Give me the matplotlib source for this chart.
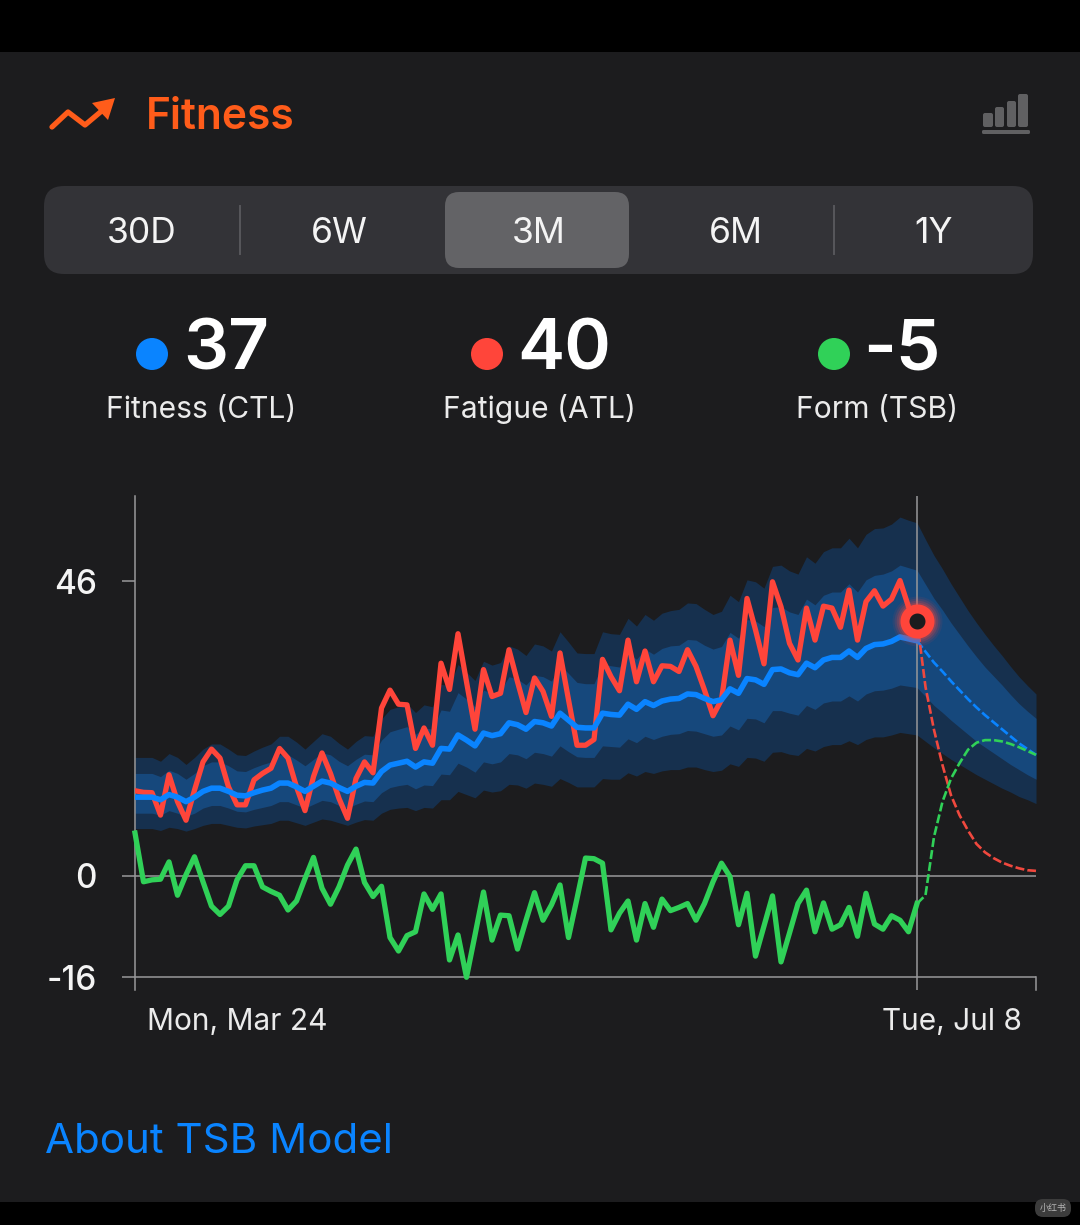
import matplotlib
matplotlib.use('Agg')
import matplotlib.pyplot as plt
from matplotlib.patches import FancyBboxPatch, Circle, Rectangle, Polygon

# values, one point per step, 93 past + 14 forecast
ctl = [12.3,12.3,12.3,11.9,12.7,12.3,11.6,12.3,13.2,13.7,13.7,13.2,12.6,12.5,13.0,13.4,13.7,14.5,14.5,13.9,13.2,14.0,14.8,14.5,13.8,13.2,14.0,14.6,14.5,16.3,17.3,17.6,17.9,17.0,17.8,17.6,19.9,19.8,22.0,21.2,20.3,22.3,21.9,22.2,23.9,23.6,22.9,24.1,23.9,23.4,25.4,24.3,23.2,23.1,23.1,25.4,25.2,25.1,26.8,26.0,27.2,26.6,27.3,27.6,27.7,28.4,28.3,27.7,27.2,27.5,29.2,28.5,30.8,30.6,29.9,32.2,32.3,31.7,31.4,33.2,32.5,33.7,34.1,34.1,35.1,34.1,35.5,36.1,36.2,36.6,37.3,37.0,36.7]
atl = [13.3,13.05,13.0,9.5,15.8,11.6,8.7,13.4,17.8,19.8,18.4,13.9,11.1,11.1,15.0,16.0,16.8,19.9,18.4,13.9,10.2,15.5,19.2,16.0,12.1,9.0,15.2,17.8,16.1,26.2,29.0,26.8,26.7,19.9,23.1,20.4,33.2,29.1,37.8,30.3,22.9,32.2,28.0,28.5,35.3,30.3,25.5,30.9,28.8,24.9,34.8,27.5,20.4,20.4,21.3,33.8,31.1,28.9,36.8,30.3,35.1,30.3,32.8,32.7,31.9,35.3,32.7,29.0,25.0,27.5,36.8,31.3,43.3,38.4,33.1,45.9,42.0,36.3,33.7,41.8,36.8,42.1,41.8,38.8,44.6,36.8,42.8,44.5,42.1,43.2,46.1,42.0,39.8]
tsb = [6.7,-0.9,-0.6,-0.5,2.2,-3.0,0.2,3.0,-0.9,-4.7,-6.0,-4.7,-0.6,1.6,1.6,-1.7,-2.4,-3.0,-5.3,-3.9,-0.4,2.9,-1.9,-4.4,-1.7,1.7,4.2,-1.0,-3.2,-1.6,-9.6,-11.7,-9.3,-8.7,-2.8,-5.2,-2.8,-13.1,-9.2,-15.8,-9.2,-2.5,-10.0,-6.1,-6.2,-11.4,-6.9,-2.6,-6.9,-4.5,-1.4,-9.6,-3.5,2.8,2.7,2.0,-8.4,-5.8,-3.9,-10.0,-4.3,-8.0,-3.6,-5.4,-4.9,-4.3,-6.9,-4.3,-0.9,2.0,-0.1,-7.6,-2.7,-12.5,-7.8,-3.1,-13.4,-8.9,-4.3,-2.2,-8.7,-4.2,-8.3,-7.6,-4.9,-9.4,-2.7,-7.5,-8.3,-6.2,-6.9,-8.7,-4.3]

ctl_fc = [36.7,35.0,33.3,31.9,30.4,29.0,27.6,26.3,25.1,24.0,22.9,21.8,20.7,19.8,18.9]
atl_fc = [39.8,29.5,22.8,17.3,12.6,9.5,7.1,5.0,3.7,2.8,2.1,1.6,1.2,0.9,0.8]
tsb_fc = [-4.3,-3.0,6.1,11.6,15.2,17.6,19.7,20.8,21.2,21.2,21.0,20.6,20.1,19.5,18.9]

band_top_outer = [18.5,18.5,18.5,17.9,19.1,18.5,17.4,18.5,19.8,20.6,20.6,19.8,18.9,18.8,19.5,20.1,20.6,21.8,21.8,20.9,19.8,21.0,22.2,21.8,20.7,19.8,21.0,21.9,21.8,24.5,26.0,26.4,26.9,25.5,26.7,26.4,29.9,29.7,33.0,31.8,30.5,33.5,32.9,33.3,35.9,35.4,34.4,36.2,35.9,35.1,38.1,36.5,34.8,34.7,34.7,38.1,37.8,37.7,40.2,39.0,40.8,39.9,41.0,41.4,41.6,42.6,42.5,41.6,40.8,41.3,43.8,42.8,46.2,45.9,44.9,48.3,48.5,47.6,47.1,49.8,48.8,50.6,51.2,51.2,52.7,51.2,53.3,54.2,54.3,54.9,56.0,55.5,55.1,52.5,50.0,47.9,45.6,43.5,41.4,39.5,37.7,36.0,34.4,32.7,31.1,29.7,28.4]
band_top_inner = [16.0,16.0,16.0,15.5,16.5,16.0,15.1,16.0,17.2,17.8,17.8,17.2,16.4,16.3,16.9,17.4,17.8,18.9,18.9,18.1,17.2,18.2,19.2,18.9,17.9,17.2,18.2,19.0,18.9,21.2,22.5,22.9,23.3,22.1,23.1,22.9,25.9,25.7,28.6,27.6,26.4,29.0,28.5,28.9,31.1,30.7,29.8,31.3,31.1,30.4,33.0,31.6,30.2,30.0,30.0,33.0,32.8,32.6,34.8,33.8,35.4,34.6,35.5,35.9,36.0,36.9,36.8,36.0,35.4,35.8,38.0,37.1,40.0,39.8,38.9,41.9,42.0,41.2,40.8,43.2,42.3,43.8,44.3,44.3,45.6,44.3,46.2,46.9,47.1,47.6,48.5,48.1,47.7,45.5,43.3,41.5,39.5,37.7,35.9,34.2,32.6,31.2,29.8,28.3,26.9,25.7,24.6]
band_low_inner = [9.8,9.8,9.8,9.5,10.2,9.8,9.3,9.8,10.6,11.0,11.0,10.6,10.1,10.0,10.4,10.7,11.0,11.6,11.6,11.1,10.6,11.2,11.8,11.6,11.0,10.6,11.2,11.7,11.6,13.0,13.8,14.1,14.3,13.6,14.2,14.1,15.9,15.8,17.6,17.0,16.2,17.8,17.5,17.8,19.1,18.9,18.3,19.3,19.1,18.7,20.3,19.4,18.6,18.5,18.5,20.3,20.2,20.1,21.4,20.8,21.8,21.3,21.8,22.1,22.2,22.7,22.6,22.2,21.8,22.0,23.4,22.8,24.6,24.5,23.9,25.8,25.8,25.4,25.1,26.6,26.0,27.0,27.3,27.3,28.1,27.3,28.4,28.9,29.0,29.3,29.8,29.6,29.4,28.0,26.6,25.5,24.3,23.2,22.1,21.0,20.1,19.2,18.3,17.4,16.6,15.8,15.1]
band_low_outer = [7.4,7.4,7.4,7.1,7.6,7.4,7.0,7.4,7.9,8.2,8.2,7.9,7.6,7.5,7.8,8.0,8.2,8.7,8.7,8.3,7.9,8.4,8.9,8.7,8.3,7.9,8.4,8.8,8.7,9.8,10.4,10.6,10.7,10.2,10.7,10.6,11.9,11.9,13.2,12.7,12.2,13.4,13.1,13.3,14.3,14.2,13.7,14.5,14.3,14.0,15.2,14.6,13.9,13.9,13.9,15.2,15.1,15.1,16.1,15.6,16.3,16.0,16.4,16.6,16.6,17.0,17.0,16.6,16.3,16.5,17.5,17.1,18.5,18.4,17.9,19.3,19.4,19.0,18.8,19.9,19.5,20.2,20.5,20.5,21.1,20.5,21.3,21.7,21.7,22.0,22.4,22.2,22.0,21.0,20.0,19.1,18.2,17.4,16.6,15.8,15.1,14.4,13.7,13.1,12.4,11.9,11.3]

y_ticks = [46, 0, -15.8]
y_tick_labels = ['46', '0', '-16']
ranges = ['30D', '6W', '3M', '6M', '1Y']
stat_values = ['37', '40', '-5']
stat_names = ['Fitness (CTL)', 'Fatigue (ATL)', 'Form (TSB)']

BG = '#1c1c1e'
BLUE = '#0a84ff'
RED = '#ff453a'
GREEN = '#30d158'
ORANGE = '#ff5c1a'
GRID = '#98989a'

plt.rcParams['font.family'] = ['Inter', 'DejaVu Sans']

fig = plt.figure(figsize=(10.8, 12.25), dpi=100, facecolor='black')

# pixel canvas for the app chrome
ui = fig.add_axes([0, 0, 1, 1])
ui.set_xlim(0, 1080)
ui.set_ylim(1225, 0)
ui.axis('off')

ui.add_patch(Rectangle((0, 52), 1080, 1150, color=BG, lw=0))

# header
ui.plot([52, 68, 85, 104], [127, 112, 125, 109], color=ORANGE, lw=3.8, solid_joinstyle='round', solid_capstyle='round')
ui.add_patch(Polygon([(92, 103), (115, 98), (108, 120)], color=ORANGE, lw=0))
ui.text(146, 113, 'Fitness', color=ORANGE, fontsize=30.5, fontweight='semibold', va='center_baseline')

for x0, x1, top in [(983, 993, 113), (995, 1004, 107), (1007, 1016, 101), (1018, 1028, 94)]:
    ui.add_patch(FancyBboxPatch((x0, top), x1 - x0, 127 - top, boxstyle='round,pad=0,rounding_size=2', color='#606062', lw=0))
ui.add_patch(FancyBboxPatch((982, 130), 48, 4, boxstyle='round,pad=0,rounding_size=1.5', color='#606062', lw=0))

# range picker
ui.add_patch(FancyBboxPatch((44, 186), 989, 88, boxstyle='round,pad=0,rounding_size=20', color='#333337', lw=0))
ui.add_patch(FancyBboxPatch((445, 192), 184, 76, boxstyle='round,pad=0,rounding_size=14', color='#636366', lw=0))
for x in [240, 834]:
    ui.plot([x, x], [206, 254], color='#57575b', lw=1.4)
for x, lab in zip([142, 339, 539, 736, 934], ranges):
    ui.text(x, 230, lab, color='#f4f4f4', fontsize=25.5, ha='center', va='center_baseline')

# current values
for dot_x, col, num_x, val, name_x, name in zip([152, 487, 834], [BLUE, RED, GREEN], [183, 517, 863], stat_values, [201, 539, 877], stat_names):
    ui.add_patch(Circle((dot_x, 354), 16, color=col, lw=0))
    ui.text(num_x, 344, val, color='white', fontsize=51, fontweight='semibold', va='center_baseline')
    ui.text(name_x, 406.5, name, color='#ebebeb', fontsize=21.6, ha='center', va='center_baseline')

ui.text(45, 1138, 'About TSB Model', color=BLUE, fontsize=30.3, va='center_baseline')

# watermark pill
ui.add_patch(FancyBboxPatch((1035, 1199), 36, 18, boxstyle='round,pad=0,rounding_size=8', color='#3c3c3c', lw=0))
ui.text(1053, 1208, '小红书', color='#b5b5b5', fontsize=6.5, ha='center', va='center', family=['Noto Sans CJK SC', 'DejaVu Sans'])

# the chart itself
px_per_unit = 6.41
ax_left, ax_right, ax_top, ax_bottom = 135, 1036, 496, 990
ax = fig.add_axes([ax_left / 1080, 1 - ax_bottom / 1225, (ax_right - ax_left) / 1080, (ax_bottom - ax_top) / 1225])
ax.patch.set_alpha(0)
ax.set_xlim(0, 106)
ax.set_ylim((876 - ax_bottom) / px_per_unit, (876 - ax_top) / px_per_unit)

days = list(range(len(ctl)))
days_fc = list(range(len(ctl) - 1, len(ctl) - 1 + len(ctl_fc)))
days_all = list(range(len(band_top_outer)))

ax.fill_between(days_all, band_low_outer, band_top_outer, color='#16304e', lw=0, zorder=1)
ax.fill_between(days_all, band_low_inner, band_top_inner, color='#16487c', lw=0, zorder=1.1)

for sp in ['top', 'right', 'bottom']:
    ax.spines[sp].set_visible(False)
ax.spines['left'].set_color(GRID)
ax.spines['left'].set_linewidth(1.1)
ax.set_xticks([])
ax.set_yticks(y_ticks)
ax.set_yticklabels(y_tick_labels, color='#f4f4f4', fontsize=24, fontweight='medium')
ax.tick_params(axis='y', length=9.5, width=1.1, color=GRID, pad=18)

ax.axhline(0, color=GRID, lw=1.1, zorder=2)
ax.axhline(y_ticks[2], color=GRID, lw=1.1, zorder=2)
ax.axvline(days[-1], color=GRID, lw=1.1, zorder=2)
ax.plot([106, 106], [(876 - ax_bottom) / px_per_unit, y_ticks[2]], color=GRID, lw=1.1, clip_on=False, zorder=2)

dash = (0, (3.4, 1.2))
ax.plot(days_fc, ctl_fc, color=BLUE, lw=1.9, ls=dash, zorder=3, clip_on=False)
ax.plot(days_fc, atl_fc, color='#f0483e', lw=1.9, ls=dash, zorder=3, clip_on=False)
ax.plot(days_fc, tsb_fc, color=GREEN, lw=1.9, ls=dash, zorder=3, clip_on=False)

ax.plot(days, tsb, color=GREEN, lw=3.8, solid_joinstyle='round', zorder=4, clip_on=False)
ax.plot(days, atl, color=RED, lw=3.8, solid_joinstyle='round', zorder=4)
ax.plot(days, ctl, color=BLUE, lw=4, solid_joinstyle='round', zorder=5)

# today marker with its glow
for ms, alpha in [(36, 0.08), (33, 0.12), (30, 0.18), (27, 0.25)]:
    ax.plot([days[-1]], [atl[-1]], 'o', color=RED, ms=ms, mew=0, alpha=alpha, zorder=6)
ax.plot([days[-1]], [atl[-1]], 'o', mfc=BG, mec=RED, ms=18, mew=6.5, zorder=7)

ui.text(147, 1019, 'Mon, Mar 24', color='#ebebeb', fontsize=21.5, va='center_baseline')
ui.text(1022, 1019, 'Tue, Jul 8', color='#ebebeb', fontsize=21.5, ha='right', va='center_baseline')

fig.savefig('out.png', dpi=100, facecolor=fig.get_facecolor())
